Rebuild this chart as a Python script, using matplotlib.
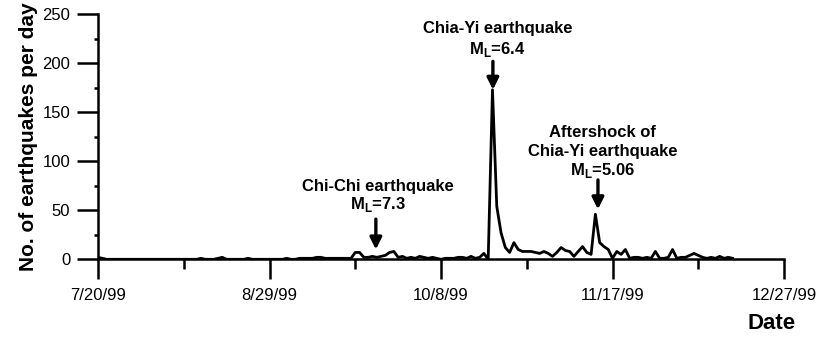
import numpy as np
import pandas as pd
import matplotlib
matplotlib.use('Agg')
import matplotlib.pyplot as plt
import matplotlib.dates as mdates
from matplotlib.ticker import FuncFormatter, MultipleLocator

plt.rcParams['font.family'] = ['Liberation Sans', 'DejaVu Sans']
plt.rcParams['mathtext.fontset'] = 'custom'
plt.rcParams['mathtext.rm'] = 'Liberation Sans:bold'
plt.rcParams['mathtext.bf'] = 'Liberation Sans:bold'

# daily counts, starting 7/20/99
start_date = '1999-07-20'
counts = [
    2, 1, 0, 0, 0, 0, 0, 0, 0, 0,
    0, 0, 0, 0, 0, 0, 0, 0, 0, 0,
    0, 0, 0, 0, 1, 0, 0, 0, 1, 2,
    0, 0, 0, 0, 0, 1, 0, 0, 0, 0,
    0, 0, 0, 0, 1, 0, 0, 1, 1, 1,
    1, 2, 2, 1, 1, 1, 1, 1, 1, 1,
    7, 7, 2, 2, 3, 2, 3, 4, 7, 8,
    2, 3, 1, 2, 1, 3, 2, 1, 2, 1,
    0, 1, 1, 1, 2, 2, 1, 3, 1, 2,
    6, 0, 173, 54, 27, 12, 7, 17, 10, 8,
    8, 8, 7, 6, 8, 6, 3, 7, 12, 9,
    8, 3, 8, 13, 7, 5, 46, 17, 13, 10,
    1, 8, 5, 10, 1, 2, 2, 1, 2, 1,
    8, 1, 1, 2, 10, 1, 2, 2, 4, 6,
    4, 2, 1, 2, 1, 3, 1, 2, 1,
]
dates = pd.date_range(start_date, periods=len(counts), freq='D')

fig = plt.figure(figsize=(8.19, 3.45), dpi=100)
ax = fig.add_axes([0.1197, 0.2484, 0.9573 - 0.1197, 0.9586 - 0.2484])

ax.plot(dates, counts, color='black', lw=2.0, solid_joinstyle='round')

ax.set_xlim(pd.Timestamp('1999-07-20'), pd.Timestamp('1999-12-27'))
ax.set_ylim(0, 250)

major = pd.date_range('1999-07-20', '1999-12-27', freq='40D')
minor = pd.date_range('1999-08-09', '1999-12-27', freq='40D')
ax.set_xticks(major)
ax.set_xticks(minor, minor=True)
ax.xaxis.set_major_formatter(FuncFormatter(
    lambda v, p: '{d.month}/{d.day}/{y:02d}'.format(d=mdates.num2date(v), y=mdates.num2date(v).year % 100)))
ax.yaxis.set_major_locator(MultipleLocator(50))
ax.yaxis.set_minor_locator(MultipleLocator(25))

for s in ['top', 'right']:
    ax.spines[s].set_visible(False)
for s in ['left', 'bottom']:
    ax.spines[s].set_linewidth(1.8)

ax.tick_params(axis='x', which='major', length=14.5, width=1.8, pad=6, labelsize=12)
ax.tick_params(axis='x', which='minor', length=7, width=1.8)
ax.tick_params(axis='y', which='major', length=15, width=1.8, pad=5, labelsize=12)
ax.tick_params(axis='y', which='minor', length=3, width=1.8)

ax.set_ylabel('No. of earthquakes per day', fontsize=15, fontweight='bold', labelpad=3)
fig.text(0.9415, 0.033, 'Date', fontsize=16, fontweight='bold', ha='center', va='bottom')

d0 = pd.Timestamp(start_date)
def day(n):
    return d0 + pd.Timedelta(days=n)

txt = dict(ha='center', va='center', fontsize=12, fontweight='bold')
arrow = dict(arrowstyle='-|>,head_length=0.7,head_width=0.35', color='black', lw=2.4, shrinkA=0, shrinkB=0)

ax.text(day(93.2), 235, 'Chia-Yi earthquake', **txt)
ax.text(day(93.0), 214, r'M$_\mathbf{L}$=6.4', **txt)
ax.annotate('', xy=(day(92.1), 173), xytext=(day(92.1), 202), arrowprops=arrow)

ax.text(day(117.7), 129, 'Aftershock of', **txt)
ax.text(day(117.7), 110, 'Chia-Yi earthquake', **txt)
ax.text(day(117.7), 91, r'M$_\mathbf{L}$=5.06', **txt)
ax.annotate('', xy=(day(116.6), 51), xytext=(day(116.6), 81), arrowprops=arrow)

ax.text(day(65.3), 74, 'Chi-Chi earthquake', **txt)
ax.text(day(65.3), 56, r'M$_\mathbf{L}$=7.3', **txt)
ax.annotate('', xy=(day(64.8), 10), xytext=(day(64.8), 41), arrowprops=arrow)

fig.savefig('out.png', dpi=100)
